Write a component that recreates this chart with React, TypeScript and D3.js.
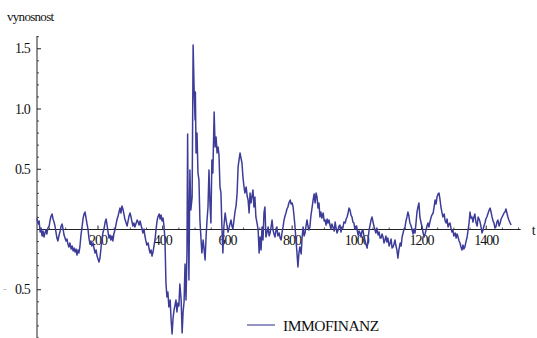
import React from "react";
import * as d3 from "d3";

// Daily return series (trading day, return) for IMMOFINANZ
const immofinanz: [number, number][] = [
  [11, 0.095], [15, 0.046], [18, 0.071], [21, -0.021], [24, 0.012], [27, -0.054], [30, -0.012], [33, -0.062], [36, -0.029], [39, -0.004],
  [42, -0.037], [45, 0.012], [49, 0.029], [52, 0.079], [55, 0.112], [58, 0.129], [61, 0.087], [64, 0.062], [67, 0.029], [70, -0.021],
  [73, -0.071], [76, -0.095], [79, -0.054], [83, -0.012], [86, 0.029], [89, 0.046], [92, 0.004], [95, -0.046], [98, -0.071], [101, -0.095],
  [104, -0.079], [107, -0.12], [110, -0.145], [113, -0.112], [117, -0.162], [120, -0.137], [123, -0.178], [126, -0.154], [129, -0.187], [132, -0.162],
  [135, -0.212], [138, -0.17], [141, -0.195], [144, -0.145], [147, -0.054], [151, 0.029], [154, 0.095], [157, 0.129], [160, 0.145], [163, 0.095],
  [166, 0.046], [169, 0.004], [172, -0.071], [175, -0.12], [178, -0.095], [181, -0.137], [185, -0.112], [188, -0.162], [191, -0.195], [194, -0.17],
  [197, -0.22], [200, -0.245], [203, -0.27], [206, -0.237], [209, -0.162], [212, -0.087], [215, -0.029], [219, 0.012], [222, 0.062], [225, 0.087],
  [228, 0.037], [231, -0.021], [234, -0.071], [237, -0.046], [240, -0.087], [243, -0.054], [246, -0.095], [249, -0.037], [253, 0.004], [256, 0.046],
  [259, 0.087], [262, 0.112], [265, 0.145], [268, 0.178], [271, 0.137], [274, 0.195], [277, 0.17], [280, 0.129], [283, 0.087], [287, 0.054],
  [290, 0.029], [293, 0.071], [296, 0.112], [299, 0.137], [302, 0.104], [305, 0.062], [308, 0.029], [311, 0.054], [314, 0.021], [317, 0.046],
  [321, 0.079], [324, 0.062], [327, 0.037], [330, 0.071], [333, 0.037], [336, 0.004], [339, -0.029], [342, 0.004], [345, -0.054], [348, -0.095],
  [351, -0.129], [355, -0.112], [358, -0.162], [361, -0.195], [364, -0.17], [367, -0.22], [370, -0.187], [373, -0.137], [376, -0.087], [379, -0.012],
  [382, 0.062], [385, 0.104], [389, 0.129], [392, 0.087], [395, 0.12], [398, 0.071], [401, 0.095], [404, 0.029], [407, -0.087], [410, -0.444],
  [413, -0.56], [416, -0.519], [419, -0.643], [423, -0.585], [426, -0.751], [429, -0.867], [432, -0.734], [435, -0.668], [438, -0.627], [441, -0.585],
  [444, -0.685], [447, -0.61], [450, -0.635], [453, -0.452], [457, -0.585], [460, -0.859], [463, -0.685], [466, -0.602], [469, -0.286], [472, -0.585],
  [475, -0.187], [477, 0.793], [478, 0.353], [481, -0.419], [484, 0.494], [487, 0.162], [491, 0.27], [494, 1.531], [497, 1.174], [500, 0.909],
  [501, 1.141], [503, 0.635], [506, 0.801], [509, 0.469], [512, 0.411], [515, 0.079], [518, -0.062], [521, -0.195], [525, -0.087], [528, -0.17],
  [531, -0.253], [534, -0.062], [537, 0.079], [540, 0.187], [543, 0.494], [546, 0.22], [549, 0.054], [552, 0.577], [555, 0.469], [559, 0.975],
  [562, 0.685], [565, 0.768], [568, 0.635], [571, 0.685], [574, 0.618], [577, 0.353], [580, 0.303], [583, 0.021], [586, -0.195], [589, 0.021],
  [593, 0.137], [596, 0.079], [599, 0.029], [602, -0.021], [605, 0.012], [608, 0.046], [611, 0.079], [614, 0.029], [617, 0.004], [620, 0.071],
  [623, 0.137], [627, 0.203], [630, 0.303], [633, 0.519], [636, 0.577], [639, 0.635], [642, 0.593], [645, 0.552], [648, 0.436], [651, 0.361],
  [654, 0.303], [658, 0.353], [661, 0.278], [664, 0.245], [667, 0.137], [670, 0.303], [673, 0.22], [676, 0.278], [679, 0.328], [682, 0.187],
  [685, 0.27], [688, 0.104], [692, 0.046], [695, -0.004], [698, -0.195], [701, -0.062], [704, -0.17], [707, 0.021], [710, -0.087], [713, 0.137],
  [716, 0.187], [719, -0.062], [722, -0.029], [726, 0.021], [729, -0.054], [732, -0.029], [735, 0.021], [738, 0.079], [741, -0.004], [744, -0.037],
  [747, -0.062], [750, -0.012], [753, 0.021], [756, -0.054], [760, -0.029], [763, -0.071], [766, -0.087], [769, -0.021], [772, 0.021], [775, 0.079],
  [778, 0.112], [781, 0.137], [784, 0.17], [787, 0.187], [790, 0.22], [794, 0.245], [797, 0.212], [800, 0.22], [803, 0.187], [806, 0.112],
  [809, 0.021], [812, -0.087], [815, -0.195], [818, -0.311], [821, -0.195], [824, -0.145], [828, -0.203], [831, -0.062], [834, 0.021], [837, -0.054],
  [840, -0.029], [843, 0.029], [846, 0.079], [849, 0.029], [852, -0.004], [855, 0.021], [858, 0.112], [862, 0.187], [865, 0.245], [868, 0.295],
  [871, 0.22], [874, 0.303], [877, 0.27], [880, 0.178], [883, 0.22], [886, 0.104], [889, 0.145], [892, 0.095], [896, 0.137], [899, 0.071],
  [902, 0.079], [905, 0.037], [908, 0.087], [911, 0.054], [914, 0.079], [917, 0.037], [920, 0.004], [923, 0.046], [926, 0.021], [930, -0.012],
  [933, 0.062], [936, 0.012], [939, -0.029], [942, -0.004], [945, 0.029], [948, 0.037], [951, -0.021], [954, 0.021], [957, 0.012], [960, 0.062],
  [964, 0.054], [967, 0.087], [970, 0.104], [973, 0.137], [976, 0.178], [979, 0.162], [982, 0.12], [985, 0.104], [988, 0.062], [991, 0.054],
  [994, 0.004], [998, 0.029], [1001, -0.004], [1004, -0.046], [1007, -0.012], [1010, -0.029], [1013, -0.062], [1016, -0.012], [1019, -0.004], [1022, -0.054],
  [1025, -0.087], [1028, -0.12], [1032, -0.154], [1035, -0.071], [1038, -0.004], [1041, 0.037], [1044, 0.079], [1047, 0.104], [1050, 0.062], [1053, 0.029],
  [1056, -0.004], [1059, -0.029], [1062, 0.012], [1066, -0.046], [1069, -0.021], [1072, -0.071], [1075, -0.071], [1078, -0.037], [1081, -0.062], [1084, -0.112],
  [1087, -0.087], [1090, -0.054], [1093, -0.104], [1096, -0.071], [1100, -0.137], [1103, -0.112], [1106, -0.079], [1109, -0.154], [1112, -0.145], [1115, -0.12],
  [1118, -0.087], [1121, -0.137], [1124, -0.17], [1127, -0.237], [1130, -0.17], [1134, -0.112], [1137, -0.137], [1140, -0.062], [1143, -0.029], [1146, 0.004],
  [1149, 0.021], [1152, 0.071], [1155, 0.104], [1158, 0.145], [1161, 0.112], [1164, 0.054], [1168, 0.029], [1171, -0.004], [1174, -0.037], [1177, 0.004],
  [1180, -0.029], [1183, 0.054], [1186, 0.145], [1189, 0.187], [1192, 0.22], [1195, 0.104], [1198, 0.062], [1202, 0.021], [1205, -0.029], [1208, -0.062],
  [1211, -0.037], [1214, -0.004], [1217, 0.029], [1220, 0.054], [1223, 0.021], [1226, 0.062], [1229, 0.095], [1232, 0.12], [1236, 0.137], [1239, 0.187],
  [1242, 0.245], [1245, 0.212], [1248, 0.27], [1251, 0.295], [1254, 0.303], [1257, 0.253], [1260, 0.187], [1263, 0.145], [1266, 0.104], [1270, 0.129],
  [1273, 0.071], [1276, 0.054], [1279, 0.087], [1282, 0.021], [1285, 0.046], [1288, 0.054], [1291, 0.012], [1294, -0.021], [1297, -0.004], [1300, -0.054],
  [1304, -0.029], [1307, -0.071], [1310, -0.037], [1313, -0.062], [1316, -0.095], [1319, -0.112], [1322, -0.145], [1325, -0.17], [1328, -0.129], [1331, -0.162],
  [1334, -0.145], [1338, -0.095], [1341, -0.062], [1344, -0.004], [1347, 0.054], [1350, 0.145], [1353, 0.095], [1356, 0.104], [1359, 0.062], [1362, 0.104],
  [1365, 0.129], [1368, 0.062], [1372, 0.029], [1375, 0.104], [1378, 0.087], [1381, 0.062], [1384, 0.021], [1387, -0.029], [1390, -0.004], [1393, 0.029],
  [1396, 0.054], [1399, 0.087], [1402, 0.104], [1406, 0.137], [1409, 0.162], [1412, 0.178], [1415, 0.145], [1418, 0.104], [1421, 0.071], [1424, 0.054],
  [1427, 0.012], [1430, 0.021], [1433, 0.062], [1436, 0.079], [1440, 0.029], [1443, 0.054], [1446, 0.087], [1449, 0.104], [1452, 0.12], [1455, 0.137],
  [1458, 0.145], [1461, 0.17], [1464, 0.137], [1467, 0.104], [1470, 0.079], [1474, 0.054], [1477, 0.037],
];

const seriesName = "IMMOFINANZ";
const yAxisTitle = "vynosnost";
const xAxisTitle = "t";

const xMajorTicks = [200, 400, 600, 800, 1000, 1200, 1400];
const yMajorTicks = [-0.5, 0.5, 1.0, 1.5];
const yTickLabels = ["0.5", "0.5", "1.0", "1.5"]; // magnitude text; the sign of negatives is drawn separately

const W = 537;
const H = 338;
const LINE_COLOR = "#3d3d99";
const AXIS_COLOR = "#222";
const FONT = "'Liberation Serif', 'DejaVu Serif', 'Times New Roman', Times, serif";

const textStyle = { fontFamily: FONT };

export default function App() {
  const x = d3.scaleLinear().domain([11.4, 1506.6]).range([37, 520.7]);
  const y = d3.scaleLinear().domain([-0.9, 1.6]).range([337.95, 36.7]);

  const line = d3
    .line<[number, number]>()
    .x((d) => x(d[0]))
    .y((d) => y(d[1]));

  const yMinor: number[] = [];
  for (let i = -9; i <= 16; i++) {
    if (i % 5 !== 0) yMinor.push(i / 10);
  }
  const xMinor: number[] = [];
  for (let v = 50; v <= 1500; v += 50) {
    if (v % 200 !== 0) xMinor.push(v);
  }

  const x0 = x.range()[0];
  const x1 = x.range()[1];
  const y0 = y(0);

  return (
    <svg
      width={W}
      height={H}
      style={{ position: "absolute", left: 0, top: 0, background: "#fff" }}
    >
      <rect width={W} height={H} fill="#fff" />

      {/* y axis */}
      <line x1={x0} x2={x0} y1={36} y2={H} stroke={AXIS_COLOR} strokeWidth={1} />
      {yMinor.map((v) => (
        <line key={"ym" + v} x1={x0} x2={x0 + 2} y1={y(v)} y2={y(v)} stroke={AXIS_COLOR} strokeWidth={0.8} />
      ))}
      {yMajorTicks.map((v, i) => (
        <g key={"yM" + v}>
          <line x1={x0} x2={x0 + 4} y1={y(v)} y2={y(v)} stroke={AXIS_COLOR} strokeWidth={1} />
          <text
            x={x0 - 7}
            y={y(v) + 4.5}
            textAnchor="end"
            fontSize={14}
            letterSpacing={-0.8}
            fill="#111"
            style={textStyle}
          >
            {yTickLabels[i]}
          </text>
          {v < 0 && (
            <text x={3} y={y(v) + 2.5} fontSize={7} fill="#444" style={textStyle}>
              −
            </text>
          )}
        </g>
      ))}
      <text x={7} y={21} fontSize={13} letterSpacing={-0.7} fill="#111" style={textStyle}>
        {yAxisTitle}
      </text>

      {/* x axis */}
      <line x1={x0} x2={x1} y1={y0} y2={y0} stroke={AXIS_COLOR} strokeWidth={1} />
      {xMinor.map((v) => (
        <line key={"xm" + v} x1={x(v)} x2={x(v)} y1={y0} y2={y0 - 2} stroke={AXIS_COLOR} strokeWidth={0.8} />
      ))}
      {xMajorTicks.map((v) => (
        <g key={"xM" + v}>
          <line x1={x(v)} x2={x(v)} y1={y0} y2={y0 - 4} stroke={AXIS_COLOR} strokeWidth={1} />
          <text
            x={x(v)}
            y={y0 + 15}
            textAnchor="middle"
            fontSize={14}
            letterSpacing={-1}
            fill="#111"
            style={textStyle}
          >
            {v}
          </text>
        </g>
      ))}
      <text x={x1 + 11} y={y0 + 5} fontSize={14} fill="#111" style={textStyle}>
        {xAxisTitle}
      </text>

      {/* series */}
      <path
        d={line(immofinanz) ?? ""}
        fill="none"
        stroke={LINE_COLOR}
        strokeWidth={1.5}
        strokeLinejoin="round"
      />

      {/* legend */}
      <line x1={247} x2={275} y1={325} y2={325} stroke={LINE_COLOR} strokeWidth={1.3} opacity={0.85} />
      <text x={283} y={331} fontSize={15.5} letterSpacing={-0.5} fill="#111" style={textStyle}>
        {seriesName}
      </text>
    </svg>
  );
}
